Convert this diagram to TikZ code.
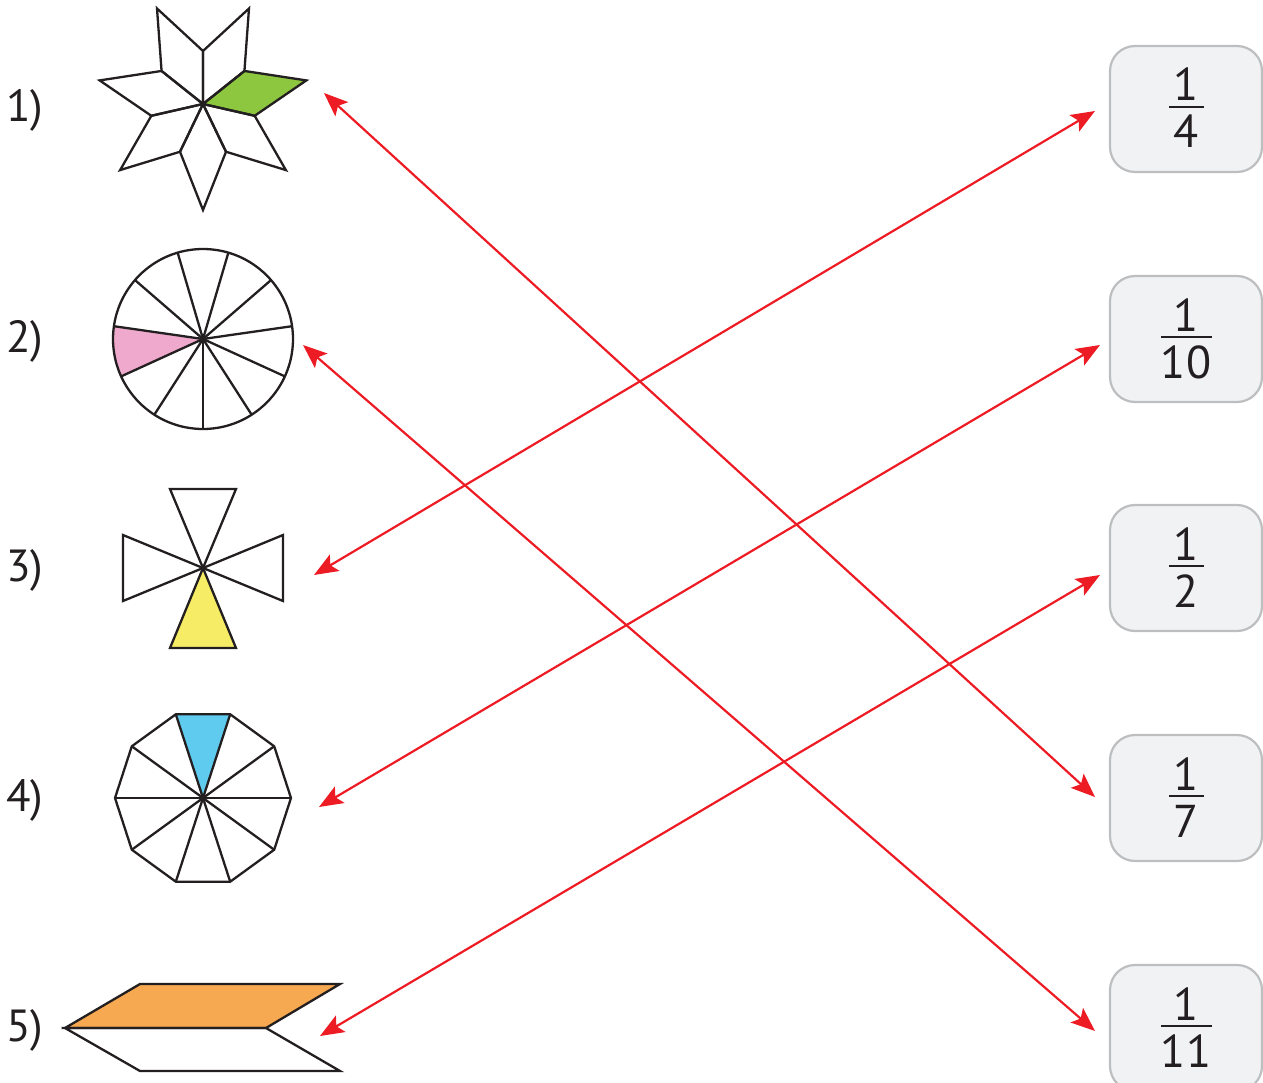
\documentclass[tikz,border=0pt]{standalone}
\usepackage{fontspec}
\setmainfont{PT Sans}
\usetikzlibrary{arrows.meta,calc}
\definecolor{arrred}{HTML}{ED1C24}
\definecolor{ink}{HTML}{231F20}
\definecolor{boxfill}{HTML}{F1F2F4}
\definecolor{boxline}{HTML}{BCBEC0}
\definecolor{sgreen}{HTML}{8DC63F}
\definecolor{spink}{HTML}{EFA9CD}
\definecolor{syellow}{HTML}{F7EC65}
\definecolor{sblue}{HTML}{5FCBEF}
\definecolor{sorange}{HTML}{F7A951}
\tikzset{
  shp/.style={draw=ink, line width=2.3pt},
  box/.style={draw=boxline, fill=boxfill, line width=2.2pt, rounded corners=25pt,
    minimum width=152pt, minimum height=126pt, inner sep=0pt},
  ftxt/.style={text=ink, font=\fontsize{46pt}{52pt}\selectfont, inner sep=0pt},
  lbl/.style={text=ink, font=\fontsize{45pt}{52pt}\selectfont, inner sep=0pt},
  fbar/.style={fill=ink, inner sep=0pt, minimum height=2.5pt},
  arr/.style={draw=arrred, line width=2.2pt,
    {Stealth[length=24pt,width=19pt,inset=5pt]}-{Stealth[length=24pt,width=19pt,inset=5pt]}},
}
\newcommand\fracbox[4]{%
  \node[box] (#1) at (1186,#2) {};
  \node[fbar, minimum width=#4] (#1bar) at ($(#1.center)+(0,-2)$) {};
  \node[ftxt, anchor=base] (#1num) at ($(#1.center)+(0,-8)$) {1};
  \node[ftxt, anchor=base] (#1den) at ($(#1.center)+(0,39)$) {#3};
}
\begin{document}
\begin{tikzpicture}[x=1pt,y=-1pt]
\useasboundingbox (0,0) rectangle (1263,1083);

% labels
\node[lbl, anchor=base west] (l1) at (6,122) {1)};
\node[lbl, anchor=base west] (l2) at (6,352) {2)};
\node[lbl, anchor=base west] (l3) at (6,581) {3)};
\node[lbl, anchor=base west] (l4) at (6,811) {4)};
\node[lbl, anchor=base west] (l5) at (6,1041) {5)};

% boxes
\fracbox{b4}{109}{4}{35pt}
\fracbox{b10}{339}{10}{51pt}
\fracbox{b2}{568}{2}{35pt}
\fracbox{b7}{798}{7}{35pt}
\fracbox{b11}{1028}{11}{51pt}

% shape 1: seven-point star of rhombi
\begin{scope}[shift={(203,104)}]
  \fill[sgreen] (0,0) -- ({-(12.857-25.714)}:53) -- ({-12.857}:106) -- ({-(12.857+25.714)}:53) -- cycle;
  \foreach \k in {0,...,6}{
    \pgfmathsetmacro\t{-90+51.4286*\k}
    \draw[shp, line join=miter] (0,0) -- ({-(\t-25.714)}:53) -- ({-\t}:106) -- ({-(\t+25.714)}:53) -- cycle;
  }
\end{scope}

% shape 2: circle with 11 sectors
\begin{scope}[shift={(203,339)}]
  \fill[spink] (0,0) -- (-171.82:90) arc[start angle=-171.82, end angle=-204.55, radius=90] -- cycle;
  \foreach \k in {0,...,10}{
    \draw[shp] (0,0) -- ({-(-90+32.7273*\k)}:90);
  }
  \draw[shp] (0,0) circle[radius=90];
\end{scope}

% shape 3: four triangles
\begin{scope}[shift={(203,568)}]
  \draw[shp, fill=syellow, line join=miter] (0,0) -- (-33,80) -- (33,80) -- cycle;
  \draw[shp, line join=miter] (0,0) -- (-33,-79) -- (33,-79) -- cycle;
  \draw[shp, line join=miter] (0,0) -- (-80,-33) -- (-80,33) -- cycle;
  \draw[shp, line join=miter] (0,0) -- (80,-33) -- (80,33) -- cycle;
\end{scope}

% shape 4: decagon
\begin{scope}[shift={(203,798)}]
  \fill[sblue] (0,0) -- (-72:88) -- (-108:88) -- cycle;
  \foreach \k in {0,...,4}{
    \draw[shp] ({36*\k}:88) -- ({36*\k+180}:88);
  }
  \draw[shp, line join=miter] (0:88) \foreach \k in {1,...,9}{ -- ({36*\k}:88)} -- cycle;
\end{scope}

% shape 5: two parallelograms
\draw[shp, fill=sorange, line join=miter] (65,1028) -- (140,984) -- (340,984) -- (266,1028) -- cycle;
\draw[shp, line join=miter] (65,1028) -- (266,1028) -- (340,1071) -- (140,1071) -- cycle;

% arrow ends
\coordinate (s1) at (324,93);
\coordinate (s2) at (303,345);
\coordinate (s3) at (314,575);
\coordinate (s4) at (319,807);
\coordinate (s5) at (320,1036);
\coordinate (e4) at (1095,111);
\coordinate (e10) at (1100,345);
\coordinate (e2) at (1100,575);
\coordinate (e7) at (1095,797);
\coordinate (e11) at (1095,1031);

\draw[arr] (s1) -- (e7);
\draw[arr] (s2) -- (e11);
\draw[arr] (s3) -- (e4);
\draw[arr] (s4) -- (e10);
\draw[arr] (s5) -- (e2);
\end{tikzpicture}
\end{document}
